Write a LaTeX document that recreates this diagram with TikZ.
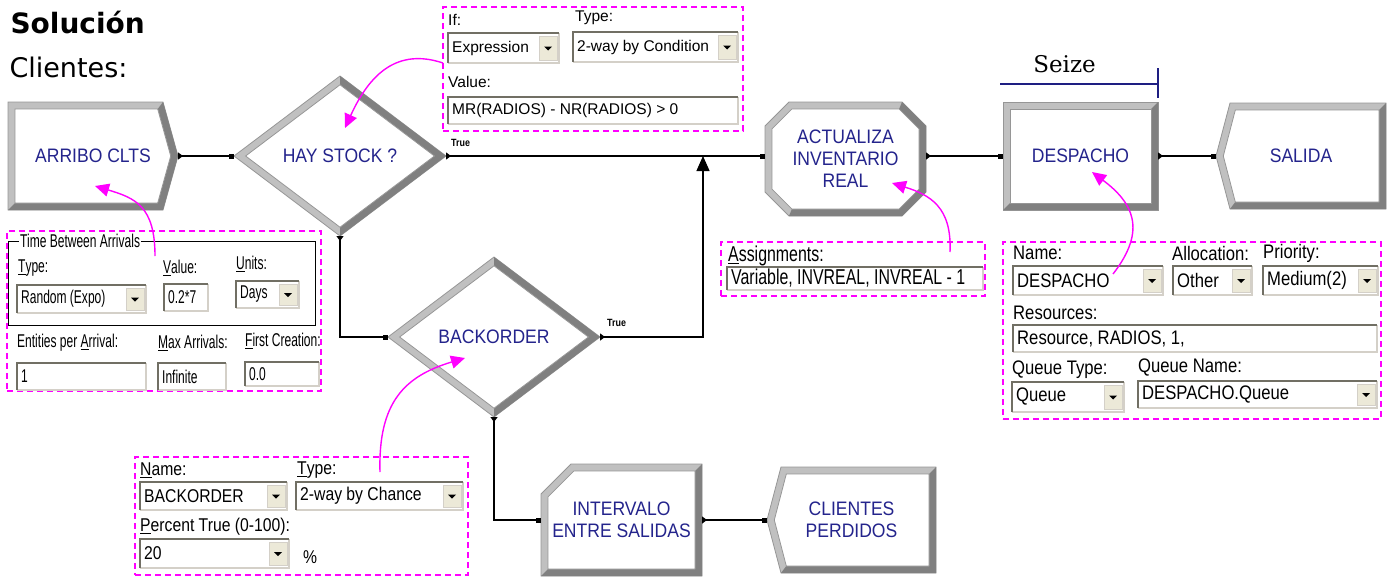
\documentclass[tikz,border=0pt]{standalone}
\usepackage{fontspec}
\setmainfont{DejaVu Sans}
\newfontfamily\blkfont[FakeStretch=0.9]{Liberation Sans}
\newfontfamily\dlgplain{Liberation Sans}
\newfontfamily\dlgfont[FakeStretch=0.85]{Liberation Sans}
\newfontfamily\dlgslim[FakeStretch=0.74]{Liberation Sans}
\newfontfamily\dlgnarrow[FakeStretch=0.65]{Liberation Sans}
\newfontfamily\seizefont{DejaVu Serif}
\usetikzlibrary{calc,arrows.meta,shapes.geometric,backgrounds}

\definecolor{bevlite}{RGB}{192,192,192}
\definecolor{bevdark}{RGB}{128,128,128}
\definecolor{bevrim}{RGB}{150,150,150}
\definecolor{blktext}{RGB}{36,36,140}
\definecolor{callmag}{RGB}{255,0,255}
\definecolor{btnface}{RGB}{236,233,216}
\definecolor{sunkdark}{RGB}{113,111,100}
\definecolor{sunklight}{RGB}{212,208,200}
\definecolor{seizeblue}{RGB}{30,30,130}

\def\bevw{7}

\tikzset{
  blk/.style={inner sep=0, outer sep=0, align=center, text=blktext,
    font=\blkfont\fontsize{19.5}{22}\selectfont},
  lite/.style={fill=bevlite, draw=bevrim, line width=0.8pt},
  dark/.style={fill=bevdark},
  face/.style={fill=white, draw=bevrim, line width=0.8pt},
  link/.style={line width=1.3pt,
    {Triangle[reversed,length=5pt,width=7pt]}-{Square[length=5pt,width=5pt]}},
  merge/.style={line width=1.3pt,
    {Triangle[reversed,length=5pt,width=7pt]}-{Triangle[length=15pt,width=13pt]}},
  truelbl/.style={anchor=base west, inner sep=0, font=\dlgfont\bfseries\fontsize{10.5}{11}\selectfont},
  panel/.style={draw=callmag, dash pattern=on 6pt off 4pt, line width=1.4pt,
    inner sep=0, outer sep=0, anchor=north west},
  callout/.style={draw=callmag, line width=1.4pt, -{Triangle[length=14pt,width=13pt]}},
  lbl/.style={anchor=west, inner sep=0},
  sunklo/.style={draw=sunkdark, line width=2pt},
  sunkhi/.style={draw=sunklight, line width=2pt},
  btn/.style={fill=btnface, draw=sunklight, line width=0.6pt},
  seizebar/.style={draw=seizeblue, line width=1.4pt}
}

% frames of the modules
\newcommand{\procframe}[1]{%
  \filldraw[lite] (#1.north west) rectangle (#1.south east);
  \fill[dark] (#1.north east) -- (#1.south east) -- (#1.south west)
    -- ($(#1.south west)+(\bevw,-\bevw)$) -- ($(#1.south east)+(-\bevw,-\bevw)$)
    -- ($(#1.north east)+(-\bevw,\bevw)$) -- cycle;
  \filldraw[face] ($(#1.north west)+(\bevw,\bevw)$) rectangle ($(#1.south east)+(-\bevw,-\bevw)$);
}
\newcommand{\createframe}[1]{%
  \filldraw[lite] (#1.north west) -- ($(#1.north east)+(-15,0)$) -- (#1.east)
    -- ($(#1.south east)+(-15,0)$) -- (#1.south west) -- cycle;
  \fill[dark] ($(#1.north east)+(-15,0)$) -- (#1.east) -- ($(#1.south east)+(-15,0)$)
    -- (#1.south west) -- ($(#1.south west)+(\bevw,-\bevw)$) -- ($(#1.south east)+(-20.3,-\bevw)$)
    -- ($(#1.east)+(-7.3,0)$) -- ($(#1.north east)+(-20.3,\bevw)$) -- cycle;
  \filldraw[face] ($(#1.north west)+(\bevw,\bevw)$) -- ($(#1.north east)+(-20.3,\bevw)$)
    -- ($(#1.east)+(-7.3,0)$) -- ($(#1.south east)+(-20.3,-\bevw)$)
    -- ($(#1.south west)+(\bevw,-\bevw)$) -- cycle;
}
\newcommand{\dispframe}[1]{%
  \filldraw[lite] ($(#1.north west)+(14,0)$) -- (#1.north east) -- (#1.south east)
    -- ($(#1.south west)+(14,0)$) -- (#1.west) -- cycle;
  \fill[dark] (#1.north east) -- (#1.south east) -- ($(#1.south west)+(14,0)$)
    -- ($(#1.south west)+(19.3,-\bevw)$) -- ($(#1.south east)+(-\bevw,-\bevw)$)
    -- ($(#1.north east)+(-\bevw,\bevw)$) -- cycle;
  \filldraw[face] ($(#1.north west)+(19.3,\bevw)$) -- ($(#1.north east)+(-\bevw,\bevw)$)
    -- ($(#1.south east)+(-\bevw,-\bevw)$) -- ($(#1.south west)+(19.3,-\bevw)$)
    -- ($(#1.west)+(7.3,0)$) -- cycle;
}
\newcommand{\assignframe}[1]{%
  \filldraw[lite] ($(#1.north west)+(24,0)$) -- ($(#1.north east)+(-24,0)$) -- ($(#1.north east)+(0,24)$)
    -- ($(#1.south east)+(0,-24)$) -- ($(#1.south east)+(-24,0)$) -- ($(#1.south west)+(24,0)$)
    -- ($(#1.south west)+(0,-24)$) -- ($(#1.north west)+(0,24)$) -- cycle;
  \fill[dark] ($(#1.north east)+(-24,0)$) -- ($(#1.north east)+(0,24)$) -- ($(#1.south east)+(0,-24)$)
    -- ($(#1.south east)+(-24,0)$) -- ($(#1.south west)+(24,0)$)
    -- ($(#1.south west)+(26.9,-\bevw)$) -- ($(#1.south east)+(-26.9,-\bevw)$)
    -- ($(#1.south east)+(-\bevw,-26.9)$) -- ($(#1.north east)+(-\bevw,26.9)$)
    -- ($(#1.north east)+(-26.9,\bevw)$) -- cycle;
  \filldraw[face] ($(#1.north west)+(26.9,\bevw)$) -- ($(#1.north east)+(-26.9,\bevw)$)
    -- ($(#1.north east)+(-\bevw,26.9)$) -- ($(#1.south east)+(-\bevw,-26.9)$)
    -- ($(#1.south east)+(-26.9,-\bevw)$) -- ($(#1.south west)+(26.9,-\bevw)$)
    -- ($(#1.south west)+(\bevw,-26.9)$) -- ($(#1.north west)+(\bevw,26.9)$) -- cycle;
}
\newcommand{\recframe}[1]{%
  \filldraw[lite] ($(#1.north west)+(30,0)$) -- (#1.north east) -- (#1.south east)
    -- (#1.south west) -- ($(#1.north west)+(0,30)$) -- cycle;
  \fill[dark] (#1.north east) -- (#1.south east) -- (#1.south west)
    -- ($(#1.south west)+(\bevw,-\bevw)$) -- ($(#1.south east)+(-\bevw,-\bevw)$)
    -- ($(#1.north east)+(-\bevw,\bevw)$) -- cycle;
  \filldraw[face] ($(#1.north west)+(32.9,\bevw)$) -- ($(#1.north east)+(-\bevw,\bevw)$)
    -- ($(#1.south east)+(-\bevw,-\bevw)$) -- ($(#1.south west)+(\bevw,-\bevw)$)
    -- ($(#1.north west)+(\bevw,32.9)$) -- cycle;
}
\newcommand{\decframe}[1]{%
  \filldraw[lite] (#1.west) -- (#1.north) -- (#1.east) -- (#1.south) -- cycle;
  \fill[dark] (#1.north) -- (#1.east) -- (#1.south) -- ($(#1.south)+(0,-8.8)$)
    -- ($(#1.east)+(-11.6,0)$) -- ($(#1.north)+(0,8.8)$) -- cycle;
  \filldraw[face] ($(#1.west)+(11.6,0)$) -- ($(#1.north)+(0,8.8)$)
    -- ($(#1.east)+(-11.6,0)$) -- ($(#1.south)+(0,-8.8)$) -- cycle;
}

% dialog widgets: name, x1, y1, x2, y2, text
\newcommand{\field}[6]{%
  \fill[white] (#2,#3) rectangle (#4,#5);
  \draw[sunkhi] (#4,#3) -- (#4,#5) -- (#2,#5);
  \draw[sunklo] (#2,#5) -- (#2,#3) -- (#4,#3);
  \node[lbl] (#1) at (#2+4,{(#3+#5)/2}) {#6};
}
\newcommand{\combo}[6]{%
  \field{#1}{#2}{#3}{#4}{#5}{#6}
  \filldraw[btn] (#4-20,#3+3) rectangle (#4-2,#5-3);
  \fill (#4-15,{(#3+#5)/2-1.5}) -- (#4-7,{(#3+#5)/2-1.5}) -- (#4-11,{(#3+#5)/2+2.5}) -- cycle;
}

\begin{document}
\begin{tikzpicture}[x=1pt,y=-1pt]
\useasboundingbox (0,0) rectangle (1392,581);

\node[anchor=base west, font=\bfseries\fontsize{28}{30}\selectfont] (titulo) at (7,33) {Solución};
\node[anchor=base west, font=\fontsize{27}{30}\selectfont] (clientes) at (6,77) {Clientes:};

% modules
\node[blk, minimum width=170pt, minimum height=108pt] (arribo) at (93,156) {ARRIBO CLTS};
\node[blk, diamond, minimum width=212pt, minimum height=160pt] (hay) at (340,156) {HAY STOCK ?};
\node[blk, diamond, minimum width=212pt, minimum height=160pt] (back) at (494,337) {BACKORDER};
\node[blk, minimum width=161pt, minimum height=114pt] (actual) at (845.5,159) {ACTUALIZA\\INVENTARIO\\REAL};
\node[blk, minimum width=155pt, minimum height=108pt] (despacho) at (1080.5,156) {DESPACHO};
\node[blk, minimum width=170pt, minimum height=106pt] (salida) at (1301,156) {SALIDA};
\node[blk, minimum width=161pt, minimum height=112pt] (interv) at (621.5,520) {INTERVALO\\ENTRE SALIDAS};
\node[blk, minimum width=169pt, minimum height=106pt] (perdidos) at (851.5,520) {CLIENTES\\PERDIDOS};

\begin{scope}[on background layer]
  \createframe{arribo}
  \decframe{hay}
  \decframe{back}
  \assignframe{actual}
  \procframe{despacho}
  \dispframe{salida}
  \recframe{interv}
  \dispframe{perdidos}
\end{scope}

% connectors
\coordinate (merge) at (703,156);
\draw[link] (arribo.east) -- (hay.west);
\draw[link] (hay.east) -- (hay.east -| actual.west);
\draw[link] (hay.east -| actual.east) -- (despacho.west);
\draw[link] (despacho.east) -- (salida.west);
\draw[link] (hay.south) |- (back.west);
\draw[merge] (back.east) -| (merge);
\draw[link] (back.south) |- (interv.west);
\draw[link] (interv.east) -- (perdidos.west);
\node[truelbl] (haytrue) at ($(hay.east)+(5,-10)$) {True};
\node[truelbl] (backtrue) at ($(back.east)+(7,-11)$) {True};

% seize bracket
\draw[seizebar] ($(despacho.north west)+(-3,-18)$) -- ($(despacho.north east)+(0,-18)$);
\draw[seizebar] ($(despacho.north east)+(0,-34)$) -- ($(despacho.north east)+(0,-4)$);
\node[font=\seizefont\fontsize{23}{25}\selectfont] (seize) at ($(despacho.north)+(-16,-38)$) {Seize};

% decide dialog
\node[panel, minimum width=300pt, minimum height=124pt] (ifbox) at (443,7) {};
\begin{scope}[font=\dlgplain\fontsize{15.5}{17}\selectfont]
  \node[lbl] (iflbl) at (448,20) {If:};
  \node[lbl] (typelbl) at (575,18) {Type:};
  \combo{ifexpr}{448}{33}{559}{63}{Expression}
  \combo{iftype}{573}{32}{738}{62}{2-way by Condition}
  \node[lbl] (vallbl) at (448,82) {Value:};
  \field{ifvalue}{448}{97}{738}{124}{MR(RADIOS) - NR(RADIOS) > 0}
\end{scope}

% create dialog
\node[panel, minimum width=314pt, minimum height=160pt] (tbabox) at (7,231) {};
\begin{scope}[font=\dlgnarrow\fontsize{18.5}{20}\selectfont]
  \draw[line width=1pt] (8,241) rectangle (315,325);
  \node[lbl, fill=white, inner xsep=1pt] (tbalbl) at (19,241) {Time Between Arrivals};
  \node[lbl] (tipolbl) at (18,268) {\underline{T}ype:};
  \node[lbl] (valorlbl) at (163,268) {\underline{V}alue:};
  \node[lbl] (unitlbl) at (236,264) {\underline{U}nits:};
  \combo{tbatype}{17}{285}{146}{313}{Random (Expo)}
  \field{tbaval}{164}{284}{208}{311}{0.2*7}
  \combo{tbaunit}{236}{281}{299}{308}{Days}
  \node[lbl] (entlbl) at (17,343) {Entities per \underline{A}rrival:};
  \node[lbl] (maxlbl) at (158,343) {\underline{M}ax Arrivals:};
  \node[lbl] (firstlbl) at (245,341) {\underline{F}irst Creation:};
  \field{entval}{17}{363}{146}{390}{1}
  \field{maxval}{158}{363}{226}{390}{Infinite}
  \field{firstval}{245}{362}{319}{386}{0.0}
\end{scope}

% assign dialog
\node[panel, minimum width=264pt, minimum height=54pt] (asgbox) at (721,242) {};
\begin{scope}[font=\dlgslim\fontsize{21.5}{23}\selectfont]
  \node[lbl] (asglbl) at (728,256) {\underline{A}ssignments:};
  \field{asgval}{727}{267}{983}{290}{Variable, INVREAL, INVREAL - 1}
\end{scope}

% seize dialog
\node[panel, minimum width=378pt, minimum height=177pt] (desbox) at (1003,242) {};
\begin{scope}[font=\dlgfont\fontsize{19.6}{21}\selectfont]
  \node[lbl] (namelbl) at (1013,253) {Name:};
  \node[lbl] (alloclbl) at (1172,253) {Allocation:};
  \node[lbl] (priolbl) at (1263,253) {Priority:};
  \combo{desname}{1013}{266}{1163}{295}{DESPACHO}
  \combo{desalloc}{1173}{266}{1252}{295}{Other}
  \combo{desprio}{1263}{266}{1378}{295}{Medium(2)}
  \node[lbl] (reslbl) at (1013,313) {Resources:};
  \field{desres}{1013}{325}{1377}{352}{Resource, RADIOS, 1,}
  \node[lbl] (qtypelbl) at (1012,370) {Queue Type:};
  \node[lbl] (qnamelbl) at (1138,368) {Queue Name:};
  \combo{desqtype}{1012}{382}{1124}{412}{Queue}
  \combo{desqname}{1138}{381}{1377}{408}{DESPACHO.Queue}
\end{scope}

% backorder dialog
\node[panel, minimum width=333pt, minimum height=118pt] (bobox) at (135,457) {};
\begin{scope}[font=\dlgfont\fontsize{18.5}{20}\selectfont]
  \node[lbl] (bonamelbl) at (140,470) {\underline{N}ame:};
  \node[lbl] (botypelbl) at (297,470) {\underline{T}ype:};
  \combo{boname}{140}{482}{287}{510}{BACKORDER}
  \combo{botype}{296}{482}{463}{510}{2-way by Chance}
  \node[lbl] (bopctlbl) at (140,527) {\underline{P}ercent True (0-100):};
  \combo{bopct}{140}{539}{289}{568}{20}
  \node[lbl] (bosign) at (303,557) {\%};
\end{scope}

% callouts
\draw[callout] ($(ifbox.north west)+(0,56)$) .. controls +(-45,-15) and +(25,-55) .. ($(hay.center)+(5,-28)$);
\draw[callout] ($(tbabox.north west)+(148,25)$) .. controls +(0,-50) and +(40,12) .. ($(arribo.center)+(2,30)$);
\draw[callout] ($(asgbox.north west)+(229,10)$) .. controls +(2,-45) and +(38,12) .. ($(actual.center)+(46.5,24)$);
\draw[callout] ($(desbox.north west)+(110,32)$) .. controls +(35,-45) and +(40,30) .. ($(despacho.center)+(11.5,16)$);
\draw[callout] ($(bobox.north west)+(245,15)$) .. controls +(-2,-70) and +(-60,18) .. ($(back.center)+(-29,21)$);

\end{tikzpicture}
\end{document}
